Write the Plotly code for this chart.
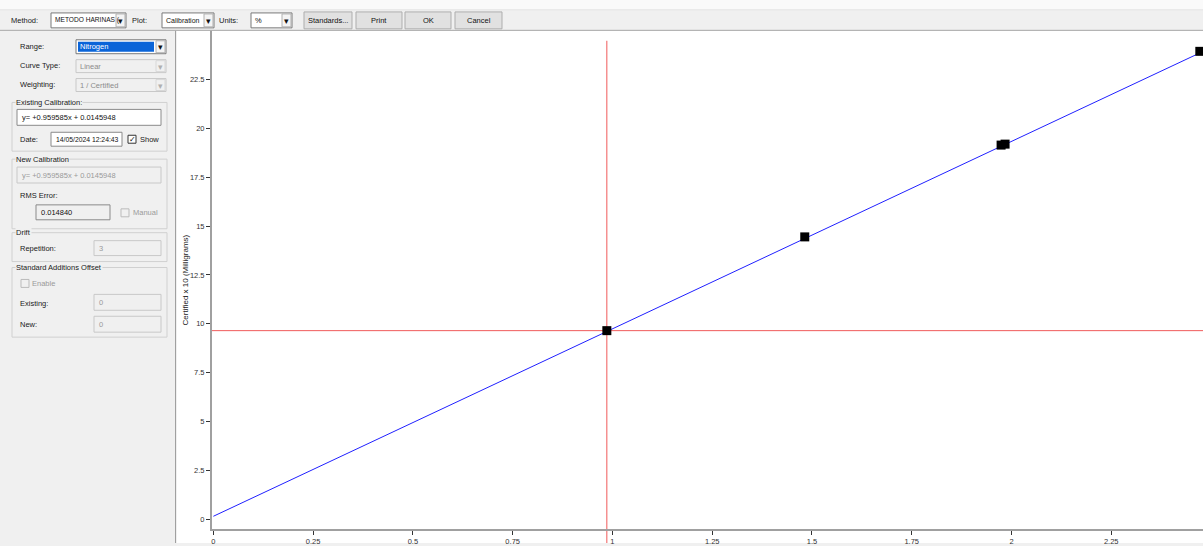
import plotly.graph_objects as go

# ---- data -------------------------------------------------------------
measured_pct = [0.986, 1.482, 1.974, 1.984, 2.472]      # x: measured %
certified_x10 = [9.65, 14.45, 19.15, 19.20, 23.95]       # y: certified x 10 (mg)
selected_idx = 0                                          # standard under the crosshair

cal_slope = 0.959585
cal_intercept = 0.0145948
cal_scale = 10.0
fit_x = [0.0, 2.48]

x_ticks = [0, 0.25, 0.5, 0.75, 1, 1.25, 1.5, 1.75, 2, 2.25]
x_tick_text = ["0", "0.25", "0.5", "0.75", "1", "1.25", "1.5", "1.75", "2", "2.25"]
y_ticks = [0, 2.5, 5, 7.5, 10, 12.5, 15, 17.5, 20, 22.5]
y_tick_text = ["0", "2.5", "5", "7.5", "10", "12.5", "15", "17.5", "20", "22.5"]

eq_text = "y= +0.959585x + 0.0145948"
date_text = "14/05/2024 12:24:43"
rms_text = "0.014840"

# ---- canvas helpers ---------------------------------------------------
W, H = 1203, 546
FONT = "Liberation Sans"
BG = "#f0f0f0"


def px(x):
    return x / W


def py(y):
    return 1 - y / H


shapes = []
annotations = []


def rect(x0, y0, x1, y1, fill=None, line="#a0a0a0", lw=1):
    shapes.append(dict(type="rect", xref="paper", yref="paper",
                       x0=px(x0), x1=px(x1), y0=py(y1), y1=py(y0),
                       fillcolor=fill if fill else "rgba(0,0,0,0)",
                       line=dict(color=line if line else "rgba(0,0,0,0)", width=lw),
                       layer="below"))


def hline(x0, x1, y, color, lw=1, layer="below"):
    shapes.append(dict(type="line", xref="paper", yref="paper",
                       x0=px(x0), x1=px(x1), y0=py(y), y1=py(y),
                       line=dict(color=color, width=lw), layer=layer))


def vline(x, y0, y1, color, lw=1, layer="below"):
    shapes.append(dict(type="line", xref="paper", yref="paper",
                       x0=px(x), x1=px(x), y0=py(y0), y1=py(y1),
                       line=dict(color=color, width=lw), layer=layer))


def text(x, y, s, size=8, color="#1a1a1a", anchor="left", bg=None, angle=0):
    annotations.append(dict(xref="paper", yref="paper", x=px(x), y=py(y),
                            text=s, showarrow=False, xanchor=anchor, yanchor="middle",
                            textangle=angle,
                            font=dict(family=FONT, size=size, color=color),
                            bgcolor=bg if bg else "rgba(0,0,0,0)", borderpad=0))


def dropdown(x0, y0, x1, y1, label, enabled=True, highlight=False, size=8):
    fill = "white" if enabled else BG
    rect(x0, y0, x1, y1, fill=fill, line="#7a7a7a" if enabled else "#c8c8c8")
    if highlight:
        rect(x0 + 2, y0 + 2, x1 - 12, y1 - 2, fill="#0a64d8", line=None)
    rect(x1 - 10, y0 + 1, x1 - 1, y1 - 1, fill="#f4f4f4" if enabled else BG,
         line="#b0b0b0" if enabled else "#d8d8d8")
    text((x1 - 10 + x1 - 1) / 2, (y0 + y1) / 2 + 0.5, "▾", size=9,
         color="#111" if enabled else "#b0b0b0", anchor="center")
    text(x0 + 3, (y0 + y1) / 2, label, size=size,
         color="white" if highlight else ("#111" if enabled else "#8c8c8c"))


def textbox(x0, y0, x1, y1, label, enabled=True, fill=None, size=8):
    rect(x0, y0, x1, y1, fill=fill if fill else ("white" if enabled else BG),
         line="#8a8a8a" if enabled else "#c8c8c8")
    text(x0 + 4, (y0 + y1) / 2, label, size=size, color="#111" if enabled else "#9a9a9a")


def checkbox(x, y, checked=False, enabled=True):
    rect(x, y - 4, x + 8, y + 4, fill="white" if enabled else BG,
         line="#333" if enabled else "#bbbbbb")
    if checked:
        text(x + 4, y, "✓", size=8, color="#111", anchor="center")


def button(x0, x1, label):
    rect(x0, 12, x1, 29, fill="#e1e1e1", line="#adadad")
    text((x0 + x1) / 2, 20.5, label, size=7.5, color="#111", anchor="center")


def group(x0, y0, x1, y1, label):
    rect(x0, y0, x1, y1, fill=None, line="#d0d0d0")
    text(x0 + 3, y0, label, size=7.5, color="#1a1a1a", bg=BG)


# ---- window chrome ----------------------------------------------------
rect(0, 0, W, 9, fill="#fafafa", line=None)
hline(0, W, 10, "#e6e6e6")
rect(177, 31, W, H, fill="white", line=None)
hline(0, W, 30.5, "#a8a8a8")
vline(175.5, 31, H, "#a0a0a0")

# toolbar
text(10, 20.5, "Method:", size=7.5)
dropdown(51, 13, 126, 28, "METODO HARINAS (", size=6.6)
text(131, 20.5, "Plot:", size=7.5)
dropdown(162, 13, 214, 28, "Calibration", size=7)
text(218, 20.5, "Units:", size=7.5)
dropdown(251, 13, 292, 28, "%", size=7.5)
button(304, 352, "Standards...")
button(356, 402, "Print")
button(405, 451, "OK")
button(455, 502, "Cancel")

# left control panel
text(19, 47, "Range:", size=7.5)
dropdown(76, 40, 166, 54, "Nitrogen", highlight=True, size=7.5)
text(19, 66, "Curve Type:", size=7.5)
dropdown(76, 60, 166, 73, "Linear", enabled=False, size=7.5)
text(19, 85, "Weighting:", size=7.5)
dropdown(76, 79, 166, 92, "1 / Certified", enabled=False, size=7.5)

group(12, 103, 167, 152, "Existing Calibration:")
textbox(17, 110, 161, 126, eq_text, size=7.5)
text(19, 140, "Date:", size=7.5)
textbox(51, 133, 122, 147, date_text, size=6.8)
checkbox(128, 140, checked=True)
text(139, 140, "Show", size=7.5)

group(12, 160, 167, 230, "New Calibration")
textbox(17, 168, 161, 184, eq_text, enabled=False, size=7.5)
text(19, 197, "RMS Error:", size=7.5)
textbox(36, 206, 110, 221, rms_text, fill=BG, size=7.5)
checkbox(121, 214, enabled=False)
text(132, 214, "Manual", size=7.5, color="#9a9a9a")

group(12, 234, 167, 263, "Drift")
text(19, 250, "Repetition:", size=7.5)
textbox(94, 242, 161, 257, "3", enabled=False, size=7.5)

group(12, 269, 167, 339, "Standard Additions Offset")
checkbox(21, 285, enabled=False)
text(31, 285, "Enable", size=7.5, color="#9a9a9a")
text(19, 305, "Existing:", size=7.5)
textbox(94, 296, 161, 312, "0", enabled=False, size=7.5)
text(19, 326, "New:", size=7.5)
textbox(94, 318, 161, 334, "0", enabled=False, size=7.5)

# ---- calibration chart ------------------------------------------------
fit_y = [cal_scale * (cal_slope * x + cal_intercept) for x in fit_x]

fig = go.Figure()
fig.add_trace(go.Scatter(x=fit_x, y=fit_y, mode="lines",
                         line=dict(color="#2020ff", width=1), hoverinfo="skip",
                         showlegend=False, cliponaxis=False))
fig.add_trace(go.Scatter(x=measured_pct, y=certified_x10, mode="markers",
                         marker=dict(symbol="square", size=9, color="black",
                                     line=dict(width=0)),
                         showlegend=False, cliponaxis=False))

# crosshair on the selected standard
sel_x = measured_pct[selected_idx]
sel_y = certified_x10[selected_idx]
red = "rgb(240,90,90)"
shapes.append(dict(type="line", xref="x", yref="paper", x0=sel_x, x1=sel_x,
                   y0=0, y1=py(41), line=dict(color=red, width=1), layer="below"))
shapes.append(dict(type="line", xref="paper", yref="y", x0=px(211), x1=1,
                   y0=sel_y, y1=sel_y, line=dict(color=red, width=1), layer="below"))

# axis frame lines
vline(211, 31, 534, "#a0a0a0", lw=2, layer="above")
hline(210, W, 533, "#a0a0a0", lw=2, layer="above")

text(185, 282, "Certified x 10 (Milligrams)", size=8, color="#222",
     anchor="center", angle=-90)

fig.update_layout(
    width=W, height=H,
    margin=dict(l=0, r=0, t=0, b=0),
    paper_bgcolor=BG,
    plot_bgcolor="rgba(0,0,0,0)",
    showlegend=False,
    shapes=shapes,
    annotations=annotations,
    font=dict(family=FONT, size=8, color="#222"),
    xaxis=dict(domain=[px(211), 1], range=[-0.006, 2.48],
               tickvals=x_ticks, ticktext=x_tick_text,
               ticks="outside", ticklen=4, tickcolor="#333", tickwidth=1,
               tickfont=dict(family=FONT, size=7.5, color="#333"),
               showgrid=False, zeroline=False, showline=False, fixedrange=True),
    yaxis=dict(domain=[py(533), py(31)], range=[-0.56, 25.0],
               tickvals=y_ticks, ticktext=y_tick_text,
               ticks="outside", ticklen=4, tickcolor="#333", tickwidth=1,
               tickfont=dict(family=FONT, size=7.5, color="#333"),
               showgrid=False, zeroline=False, showline=False, fixedrange=True),
)

fig.write_html("out.html")
